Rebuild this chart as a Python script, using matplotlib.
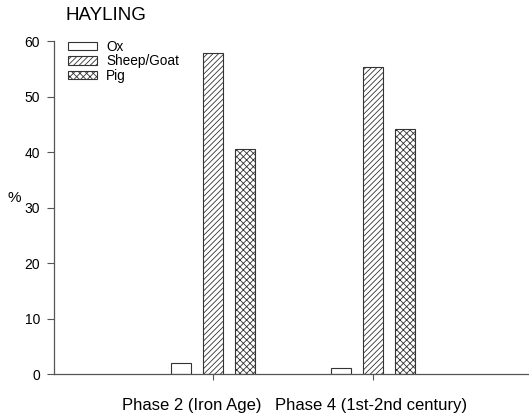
import numpy as np
import matplotlib.pyplot as plt

plt.rcParams['font.family'] = ['Liberation Sans', 'DejaVu Sans']
plt.rcParams['hatch.linewidth'] = 0.6

phases = ['Phase 2 (Iron Age)', 'Phase 4 (1st-2nd century)']
species = ['Ox', 'Sheep/Goat', 'Pig']
ox = [2.0, 1.2]
sheep_goat = [57.8, 55.3]
pig = [40.6, 44.1]
hatches = ['', '//////', 'xxxxx']

fig = plt.figure(figsize=(5.29, 4.15), dpi=100)
ax = fig.add_axes([0.102, 0.098, 0.898, 0.803])

x = np.arange(len(phases))
w = 0.125
for i, (vals, h, lab) in enumerate(zip([ox, sheep_goat, pig], hatches, species)):
    ax.bar(x + (i - 1) * 0.2, vals, w, color='white', edgecolor='#333333',
           linewidth=0.8, hatch=h, label=lab)

ax.set_xlim(-0.994, 1.975)
ax.set_ylim(0, 60)
ax.set_yticks(range(0, 61, 10))
ax.set_xticks(x)
ax.set_xticklabels(['', ''])
ax.text(-0.13, -5.7, phases[0], ha='center', va='center', fontsize=12)
ax.text(0.99, -5.7, phases[1], ha='center', va='center', fontsize=12)

for s in ['top', 'right']:
    ax.spines[s].set_visible(False)
for s in ['left', 'bottom']:
    ax.spines[s].set_color('#555555')
    ax.spines[s].set_linewidth(0.9)
ax.tick_params(axis='y', direction='out', length=5, width=0.8, color='#555555',
               labelsize=10, pad=5)
ax.tick_params(axis='x', direction='out', length=4, width=0.8, color='#555555')

fig.text(0.027, 0.523, '%', fontsize=11, ha='center', va='center')
fig.text(0.124, 0.962, 'HAYLING', fontsize=13.5, ha='left', va='center')

ax.legend(loc='upper left', bbox_to_anchor=(0.004, 1.04), frameon=False,
          fontsize=9.8, handlelength=2.1, handleheight=0.55,
          labelspacing=0.02, handletextpad=0.7)

fig.savefig('out.png', dpi=100)
